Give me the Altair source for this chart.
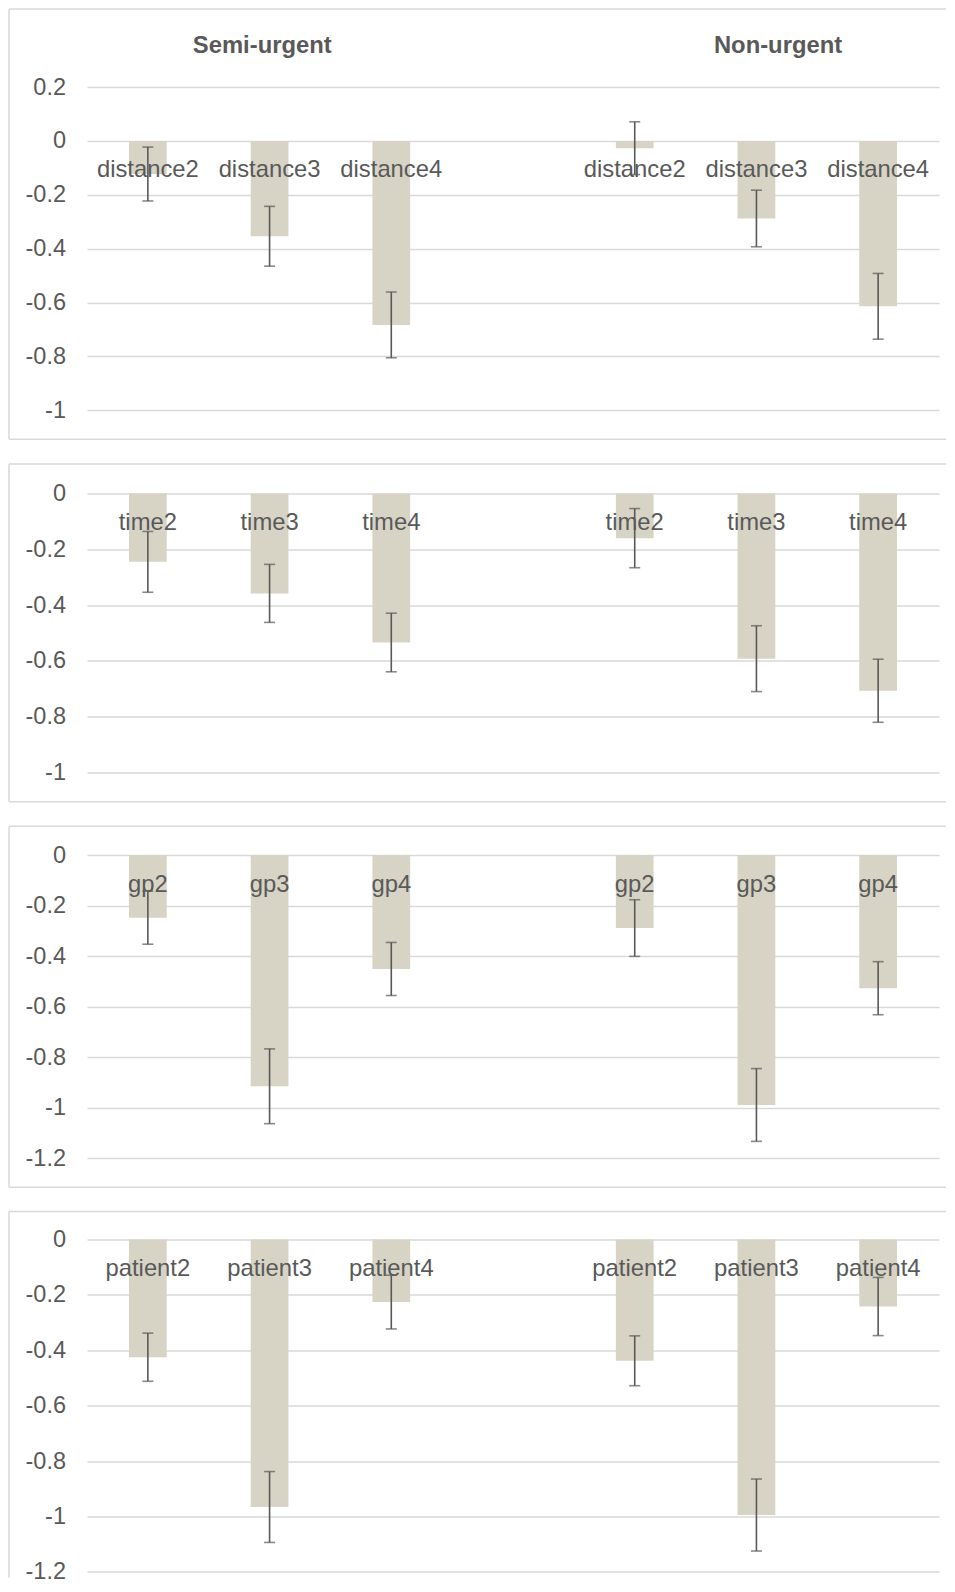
import altair as alt
import pandas as pd

FONT = "Liberation Sans"
TXT = "#595959"
GRID = "#d9d9d9"
BAR = "#d7d4c5"

slots = ["S2", "S3", "S4", "gap", "N2", "N3", "N4"]
semi_slots = ["S2", "S3", "S4"]
non_slots = ["N2", "N3", "N4"]
levels = ["2", "3", "4"]
group_titles = ["Semi-urgent", "Non-urgent"]

# values (bar heights) and half-width of error bars
distance_semi = [-0.123, -0.354, -0.683]
distance_semi_err = [0.100, 0.111, 0.122]
distance_non = [-0.027, -0.288, -0.614]
distance_non_err = [0.098, 0.105, 0.122]

time_semi = [-0.245, -0.358, -0.534]
time_semi_err = [0.109, 0.104, 0.105]
time_non = [-0.160, -0.592, -0.707]
time_non_err = [0.106, 0.118, 0.113]

gp_semi = [-0.248, -0.915, -0.451]
gp_semi_err = [0.105, 0.148, 0.105]
gp_non = [-0.289, -0.989, -0.527]
gp_non_err = [0.112, 0.144, 0.105]

patient_semi = [-0.425, -0.966, -0.226]
patient_semi_err = [0.087, 0.128, 0.097]
patient_non = [-0.438, -0.995, -0.242]
patient_non_err = [0.090, 0.130, 0.105]

ticks_p1 = [0.2, 0, -0.2, -0.4, -0.6, -0.8, -1]
ticks_p2 = [0, -0.2, -0.4, -0.6, -0.8, -1]
ticks_p3 = [0, -0.2, -0.4, -0.6, -0.8, -1, -1.2]

one = pd.DataFrame({"k": [0]})
W = 852


def seg(x1, x2, y1, y2):
    return alt.Chart(one).mark_rule(color=GRID, strokeWidth=1.5).encode(
        x=alt.value(x1), x2=alt.value(x2), y=alt.value(y1), y2=alt.value(y2)
    )


def panel(name, sv, se, nv, ne, domain, ticks, h, top_off, bot_off, closed, titles):
    vals = sv + nv
    errs = se + ne
    df = pd.DataFrame({
        "slot": semi_slots + non_slots,
        "label": [name + l for l in levels] * 2,
        "value": vals,
        "lo": [v - e for v, e in zip(vals, errs)],
        "hi": [v + e for v, e in zip(vals, errs)],
    })
    x = alt.X("slot:N", scale=alt.Scale(domain=slots, paddingInner=0.69, paddingOuter=0.345), axis=None)
    ysc = alt.Scale(domain=domain, nice=False, zero=False)
    yax = alt.Axis(values=ticks, grid=True, gridColor=GRID, gridWidth=1.5, domain=False,
                   ticks=False, labelPadding=21.5, labelFont=FONT, labelFontSize=23.5,
                   labelColor=TXT, labelExpr="toString(round(datum.value*10)/10)", title=None)

    layers = []
    left = -78
    right = 859
    layers.append(seg(left, left, -top_off, h + bot_off))
    layers.append(seg(left, right, -top_off, -top_off))
    if closed:
        layers.append(seg(left, right, h + bot_off, h + bot_off))

    bars = alt.Chart(df).mark_bar(color=BAR).encode(
        x=x, y=alt.Y("value:Q", scale=ysc, axis=yax)
    )
    labels = alt.Chart(df).mark_text(
        font=FONT, fontSize=23.8, color=TXT, baseline="alphabetic", align="center", dy=36.5
    ).encode(x=x, y=alt.datum(0), text="label:N")
    err = alt.Chart(df).mark_rule(color=TXT, strokeWidth=1.6).encode(
        x=x, y=alt.Y("lo:Q", title=None), y2="hi:Q"
    )
    cap_lo = alt.Chart(df).mark_tick(color=TXT, size=11, thickness=1.6).encode(
        x=x, y=alt.Y("lo:Q", title=None))
    cap_hi = alt.Chart(df).mark_tick(color=TXT, size=11, thickness=1.6).encode(
        x=x, y=alt.Y("hi:Q", title=None))
    layers += [bars, labels, err, cap_lo, cap_hi]

    if titles:
        tdf = pd.DataFrame({"slot": ["S3", "N3"], "title": group_titles})
        t1 = alt.Chart(tdf.iloc[[0]]).mark_text(
            font=FONT, fontSize=23.8, fontWeight="bold", color=TXT, baseline="alphabetic",
            align="center", dx=-7.3
        ).encode(x=x, y=alt.value(-34), text="title:N")
        t2 = alt.Chart(tdf.iloc[[1]]).mark_text(
            font=FONT, fontSize=23.8, fontWeight="bold", color=TXT, baseline="alphabetic",
            align="center", dx=21.6
        ).encode(x=x, y=alt.value(-34), text="title:N")
        layers += [t1, t2]

    return alt.layer(*layers).properties(width=W, height=h)


p1 = panel("distance", distance_semi, distance_semi_err, distance_non, distance_non_err,
           [-1, 0.2], ticks_p1, 323.3, 78, 29, True, True)
p2 = panel("time", time_semi, time_semi_err, time_non, time_non_err,
           [-1, 0], ticks_p2, 279, 29.4, 29.3, True, False)
p3 = panel("gp", gp_semi, gp_semi_err, gp_non, gp_non_err,
           [-1.2, 0], ticks_p3, 303.3, 28.7, 29, True, False)
p4 = panel("patient", patient_semi, patient_semi_err, patient_non, patient_non_err,
           [-1.2, 0], ticks_p3, 332.3, 28, 6, False, False)

chart = alt.vconcat(p1, p2, p3, p4, spacing=21.5).resolve_scale(
    x="independent", y="independent"
).properties(padding=0, background="white").configure(font=FONT).configure_view(strokeWidth=0)

chart.save("out.html", embed_options={"renderer": "svg", "actions": False})
